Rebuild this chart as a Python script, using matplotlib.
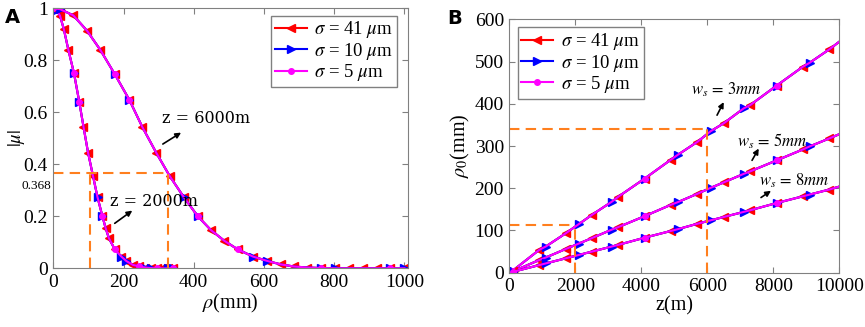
import matplotlib
matplotlib.use("Agg")
import matplotlib.pyplot as plt
from matplotlib.ticker import FormatStrFormatter

plt.rcParams['font.family'] = ['Liberation Serif', 'DejaVu Serif']
plt.rcParams['mathtext.fontset'] = 'stix'

# ---- panel A data: |mu| vs rho (mm)
rho_2000 = [0, 10, 19, 30, 43, 59, 74, 86, 99, 113, 126, 140, 149, 158, 175,
            194, 208, 227, 245, 262, 278, 294, 310, 326, 340]
mu_2000 = [1.0, 0.992, 0.972, 0.92, 0.84, 0.75, 0.64, 0.545, 0.445, 0.356,
           0.273, 0.2, 0.155, 0.117, 0.073, 0.045, 0.028, 0.013, 0.007,
           0.003, 0.001, 0, 0, 0, 0]
rho_6000 = [0, 19, 57, 96, 134, 175, 217, 253, 293, 331, 371, 411, 449, 487,
            525, 569, 610, 648, 685, 723, 761, 803, 841, 882, 921, 959, 1000]
mu_6000 = [1.0, 0.997, 0.973, 0.914, 0.84, 0.747, 0.647, 0.545, 0.445, 0.356,
           0.275, 0.201, 0.147, 0.106, 0.073, 0.045, 0.028, 0.015, 0.007,
           0.003, 0.001, 0, 0, 0, 0, 0, 0]
blue_idx_2000 = [0, 1, 5, 6, 10, 11, 15, 16, 19, 20, 23, 24]
mag_idx_2000 = [0, 5, 6, 11, 14, 18, 21, 24]
blue_idx_6000 = [0, 1, 5, 6, 10, 11, 15, 16, 20, 21, 25, 26]
mag_idx_6000 = [0, 5, 6, 11, 14, 20, 25]

# ---- panel B data: rho_0 (mm) vs z (m)
z_m = [100, 900, 1100, 1700, 2100, 2500, 3100, 3300, 4100, 4900, 5100, 5700,
       6100, 6500, 7100, 7300, 8100, 8900, 9100, 9700, 10000]
rho0_3mm = [5, 54, 62, 93, 115, 137, 168, 180, 223, 268, 279, 310, 335, 354,
            389, 397, 443, 488, 497, 529, 547]
rho0_5mm = [3, 30, 36, 56, 69, 82, 102, 108, 134, 161, 167, 187, 201, 214,
            234, 240, 266, 292, 299, 318, 328]
rho0_8mm = [2, 18, 22, 34, 42, 50, 62, 66, 83, 99, 103, 116, 124, 132, 144,
            148, 165, 181, 185, 197, 204]
red_idx_b = [0, 1, 3, 5, 7, 8, 9, 11, 13, 15, 16, 17, 19]
blue_idx_b = [0, 2, 4, 6, 8, 10, 12, 14, 16, 18]
mag_idx_b = [0, 8, 16]

labels = [r'$\sigma$ = 41 $\mu$m', r'$\sigma$ = 10 $\mu$m', r'$\sigma$ = 5 $\mu$m']
RED, BLUE, MAG = '#FF0000', '#0000FF', '#FF00FF'
ORANGE = '#FF7F1E'
GRAY = '#808080'


def draw_curve(ax, x, y, blue_idx, mag_idx, red_idx=None, legend=False):
    if red_idx is None:
        red_idx = list(range(len(x)))
    ax.plot(x, y, color=RED, lw=1.5, marker='<', ms=6, markevery=red_idx,
            label=labels[0] if legend else None)
    ax.plot(x, y, color=BLUE, lw=1.5, marker='>', ms=6, markevery=blue_idx,
            label=labels[1] if legend else None)
    ax.plot(x, y, color=MAG, lw=1.5, marker='o', ms=4, markevery=mag_idx,
            label=labels[2] if legend else None)


def style(ax):
    for sp in ax.spines.values():
        sp.set_color(GRAY)
        sp.set_linewidth(0.8)
    ax.tick_params(direction='in', length=4, top=True, right=True,
                   color=GRAY, labelsize=14, pad=4)


def add_legend(ax, **kw):
    leg = ax.legend(borderaxespad=0, fontsize=13.5, handlelength=1.7,
                    labelspacing=0.02, handletextpad=0.4, borderpad=0.2,
                    fancybox=False, framealpha=1, **kw)
    leg.get_frame().set_edgecolor(GRAY)
    return leg


fig = plt.figure(figsize=(8.65, 3.27), dpi=100)
axA = fig.add_axes([0.0616, 0.1795, 0.4100, 0.795])
axB = fig.add_axes([0.5890, 0.166, 0.3813, 0.775])

# panel A
draw_curve(axA, rho_2000, mu_2000, blue_idx_2000, mag_idx_2000, legend=True)
draw_curve(axA, rho_6000, mu_6000, blue_idx_6000, mag_idx_6000)
axA.plot([0, 328], [0.368, 0.368], '--', color=ORANGE, lw=1.5, dashes=(5, 3))
axA.plot([104, 104], [0, 0.368], '--', color=ORANGE, lw=1.5, dashes=(5, 3))
axA.plot([328, 328], [0, 0.368], '--', color=ORANGE, lw=1.5, dashes=(5, 3))
axA.set_xlim(0, 1010)
axA.set_ylim(0, 1)
axA.set_xticks([0, 200, 400, 600, 800, 1000])
axA.set_yticks([0, 0.2, 0.4, 0.6, 0.8, 1])
axA.yaxis.set_major_formatter(FormatStrFormatter('%g'))
axA.set_xlabel(r'$\rho$(mm)', fontsize=14.5, labelpad=1)
axA.set_ylabel(r'$|\mu|$', fontsize=13.5)
axA.yaxis.set_label_coords(-0.075, 0.5)
axA.text(-6, 0.318, '0.368', fontsize=9.5, ha='right', va='center')
axA.text(311, 0.578, r'z = 6000m', fontsize=11.5, va='center',
         family='DejaVu Serif')
axA.annotate('', xy=(364, 0.522), xytext=(312, 0.478),
             arrowprops=dict(arrowstyle='-|>', color='k', lw=1.2,
                             mutation_scale=8, shrinkA=0, shrinkB=0))
axA.text(161, 0.256, r'z = 2000m', fontsize=11.5, va='center',
         family='DejaVu Serif')
axA.annotate('', xy=(225, 0.222), xytext=(175, 0.173),
             arrowprops=dict(arrowstyle='-|>', color='k', lw=1.2,
                             mutation_scale=8, shrinkA=0, shrinkB=0))
add_legend(axA, loc='upper right', bbox_to_anchor=(0.969, 0.972))
style(axA)

# panel B
draw_curve(axB, z_m, rho0_3mm, blue_idx_b, mag_idx_b, red_idx_b, legend=True)
draw_curve(axB, z_m, rho0_5mm, blue_idx_b, mag_idx_b, red_idx_b)
draw_curve(axB, z_m, rho0_8mm, blue_idx_b, mag_idx_b, red_idx_b)
axB.plot([0, 6000], [340, 340], '--', color=ORANGE, lw=1.5, dashes=(5, 3))
axB.plot([6000, 6000], [0, 340], '--', color=ORANGE, lw=1.5, dashes=(5, 3))
axB.plot([0, 2000], [112, 112], '--', color=ORANGE, lw=1.5, dashes=(5, 3))
axB.plot([2000, 2000], [0, 112], '--', color=ORANGE, lw=1.5, dashes=(5, 3))
axB.set_xlim(0, 10000)
axB.set_ylim(0, 600)
axB.set_xticks([0, 2000, 4000, 6000, 8000, 10000])
axB.set_yticks([0, 100, 200, 300, 400, 500, 600])
axB.set_xlabel('z(m)', fontsize=14.5, labelpad=1)
axB.set_ylabel(r'$\rho_0$(mm)', fontsize=14.5, labelpad=2)
for txt, tx, ty, a0, a1 in [
        (r'$w_s\,=\,3mm$', 5515, 432, (6293, 373), (6495, 404)),
        (r'$w_s\,=\,5mm$', 6899, 310, (7354, 266), (7556, 294)),
        (r'$w_s\,=\,8mm$', 7556, 217, (7626, 178), (7929, 194))]:
    axB.text(tx, ty, txt, fontsize=12, va='center')
    axB.annotate('', xy=a1, xytext=a0,
                 arrowprops=dict(arrowstyle='-|>', color='k', lw=1.2,
                                 mutation_scale=8, shrinkA=0, shrinkB=0))
add_legend(axB, loc='upper left', bbox_to_anchor=(0.025, 0.968))
style(axB)

fig.text(0.006, 0.975, 'A', fontsize=14, fontweight='bold', va='top',
         family='DejaVu Sans')
fig.text(0.517, 0.972, 'B', fontsize=14, fontweight='bold', va='top',
         family='DejaVu Sans')

fig.savefig('out.png', dpi=100)
plt.close()
